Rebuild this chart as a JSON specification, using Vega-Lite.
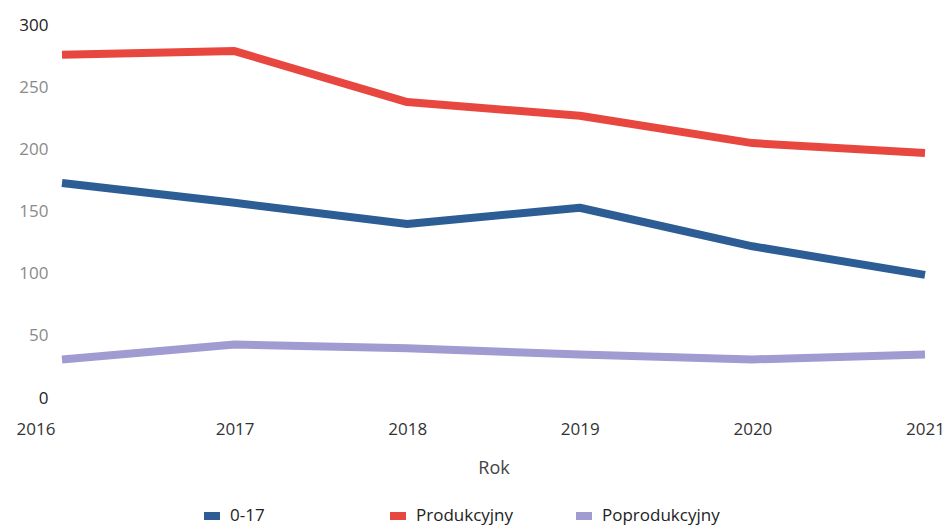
{
  "$schema": "https://vega.github.io/schema/vega-lite/v6.json",
  "autosize": "none",
  "width": 863,
  "height": 373,
  "padding": {"left": 62, "top": 25, "right": 22, "bottom": 128},
  "background": "white",
  "config": {"view": {"stroke": null}, "font": "Open Sans"},
  "data": {"values": [
    {"Rok": 2016, "Grupa": "0-17", "v": 173},
    {"Rok": 2017, "Grupa": "0-17", "v": 157},
    {"Rok": 2018, "Grupa": "0-17", "v": 140},
    {"Rok": 2019, "Grupa": "0-17", "v": 153},
    {"Rok": 2020, "Grupa": "0-17", "v": 122},
    {"Rok": 2021, "Grupa": "0-17", "v": 99},
    {"Rok": 2016, "Grupa": "Produkcyjny", "v": 276},
    {"Rok": 2017, "Grupa": "Produkcyjny", "v": 279},
    {"Rok": 2018, "Grupa": "Produkcyjny", "v": 238},
    {"Rok": 2019, "Grupa": "Produkcyjny", "v": 227},
    {"Rok": 2020, "Grupa": "Produkcyjny", "v": 205},
    {"Rok": 2021, "Grupa": "Produkcyjny", "v": 197},
    {"Rok": 2016, "Grupa": "Poprodukcyjny", "v": 31},
    {"Rok": 2017, "Grupa": "Poprodukcyjny", "v": 43},
    {"Rok": 2018, "Grupa": "Poprodukcyjny", "v": 40},
    {"Rok": 2019, "Grupa": "Poprodukcyjny", "v": 35},
    {"Rok": 2020, "Grupa": "Poprodukcyjny", "v": 31},
    {"Rok": 2021, "Grupa": "Poprodukcyjny", "v": 35}
  ]},
  "mark": {"type": "line", "strokeWidth": 8, "strokeJoin": "round", "strokeCap": "butt"},
  "encoding": {
    "x": {
      "field": "Rok", "type": "quantitative",
      "scale": {"domain": [2016, 2021], "nice": false, "zero": false},
      "axis": {
        "values": [2016, 2017, 2018, 2019, 2020, 2021],
        "format": "d", "title": "Rok", "grid": false, "domain": false, "ticks": false,
        "labelFontSize": 17, "labelColor": "#333333", "labelPadding": 23,
        "labelAlign": {"condition": {"test": "datum.value == 2016", "value": "right"}, "value": "center"},
        "labelOffset": {"condition": {"test": "datum.value == 2016", "value": -7}, "value": 0},
        "labelFlush": false,
        "titleFontSize": 18, "titleFontWeight": "normal", "titleColor": "#444444", "titlePadding": 22
      }
    },
    "y": {
      "field": "v", "type": "quantitative",
      "scale": {"domain": [0, 300], "nice": false},
      "axis": {
        "values": [0, 50, 100, 150, 200, 250, 300],
        "title": null, "grid": false, "domain": false, "ticks": false,
        "labelFontSize": 17, "labelPadding": 14,
        "labelColor": {"condition": {"test": "datum.value == 0 || datum.value == 300", "value": "#222222"}, "value": "#8a8a8a"}
      }
    },
    "color": {
      "field": "Grupa", "type": "nominal",
      "sort": ["0-17", "Produkcyjny", "Poprodukcyjny"],
      "scale": {"domain": ["0-17", "Produkcyjny", "Poprodukcyjny"], "range": ["#2d5d95", "#e8473f", "#a09bd0"]},
      "legend": {
        "title": null, "orient": "none", "legendX": 138, "legendY": 479,
        "direction": "horizontal", "columns": 3, "gridAlign": "all", "columnPadding": 26,
        "symbolType": "stroke", "symbolSize": 256, "symbolStrokeWidth": 8,
        "labelFontSize": 17, "labelOffset": 6,
        "labelColor": {"condition": {"test": "datum.label == 'Poprodukcyjny'", "value": "#8a8a8a"}, "value": "#222222"}
      }
    }
  }
}
